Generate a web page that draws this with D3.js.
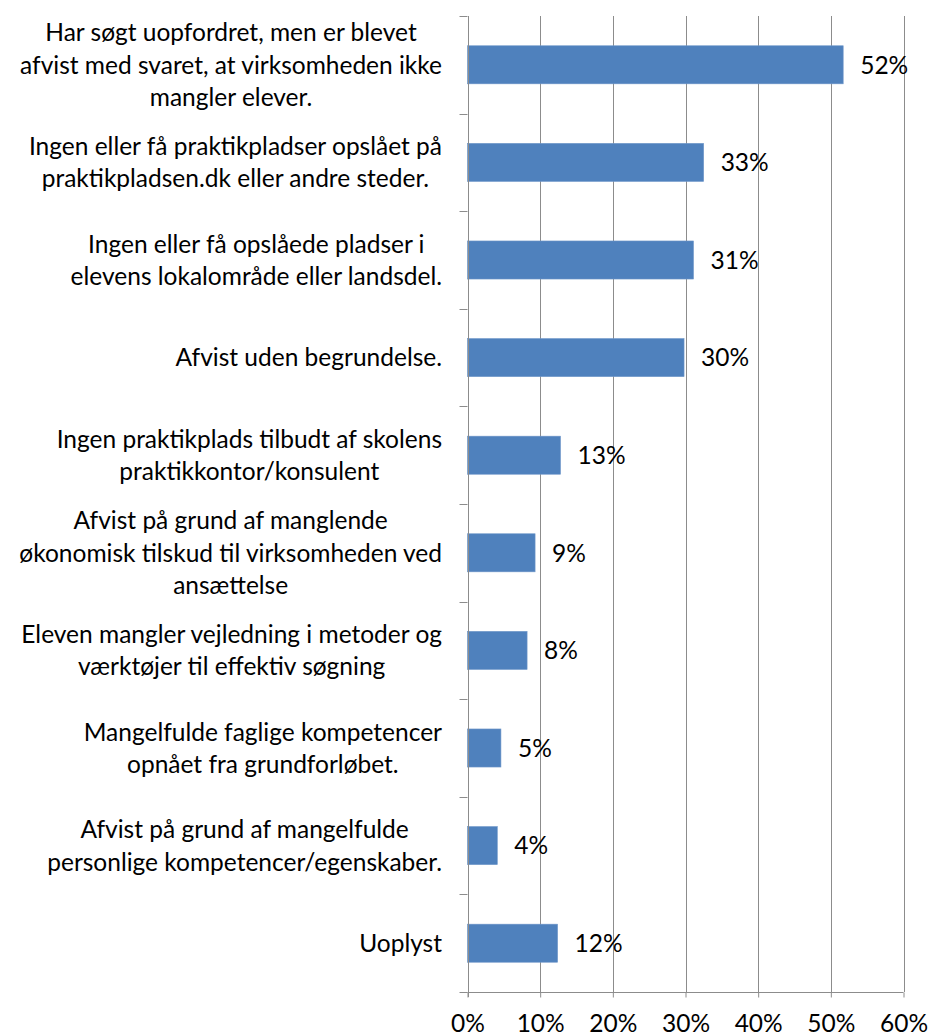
<!DOCTYPE html>
<html>
<head>
<meta charset="utf-8">
<script src="https://cdn.jsdelivr.net/npm/d3@7"></script>
<style>
  html, body { margin: 0; padding: 0; background: #fff; }
  svg { display: block; font-family: Lato, "Open Sans", sans-serif; }
</style>
</head>
<body>
<svg id="chart" width="929" height="1036"></svg>
<script>
const categories = [
  ["Har søgt uopfordret, men er blevet", "afvist med svaret, at virksomheden ikke", "mangler elever."],
  ["Ingen eller få praktikpladser opslået på", "praktikpladsen.dk eller andre steder."],
  ["Ingen eller få opslåede pladser i", "elevens lokalområde eller landsdel."],
  ["Afvist uden begrundelse."],
  ["Ingen praktikplads tilbudt af skolens", "praktikkontor/konsulent"],
  ["Afvist på grund af manglende", "økonomisk tilskud til virksomheden ved", "ansættelse"],
  ["Eleven mangler vejledning i metoder og", "værktøjer til effektiv søgning"],
  ["Mangelfulde faglige kompetencer", "opnået fra grundforløbet."],
  ["Afvist på grund af mangelfulde", "personlige kompetencer/egenskaber."],
  ["Uoplyst"]
];
const values = [0.517, 0.325, 0.311, 0.298, 0.128, 0.093, 0.082, 0.046, 0.041, 0.124];
const valueLabels = ["52%", "33%", "31%", "30%", "13%", "9%", "8%", "5%", "4%", "12%"];
const xTicks = [0, 0.1, 0.2, 0.3, 0.4, 0.5, 0.6];

(function () {
const svg = d3.select("#chart");
const pLeft = 467.5, pRight = 903.5, pTop = 16, pBottom = 992;
const gridColor = "#8c8c8c";
const fontSize = 24.5;

const ids = categories.map((c, i) => "c" + i);
const x = d3.scaleLinear().domain([0, 0.6]).range([pLeft, pRight]);
const y = d3.scaleBand().domain(ids).range([pTop, pBottom]).paddingInner(0.61).paddingOuter(0.305);

// gridlines
svg.append("g").selectAll("line").data(xTicks.slice(1)).join("line")
  .attr("x1", d => Math.round(x(d)) + 0.5).attr("x2", d => Math.round(x(d)) + 0.5)
  .attr("y1", pTop).attr("y2", pBottom)
  .attr("stroke", gridColor).attr("stroke-width", 1);

// bars
svg.append("g").selectAll("rect").data(values).join("rect")
  .attr("x", x(0))
  .attr("y", (d, i) => y(ids[i]))
  .attr("width", d => x(d) - x(0))
  .attr("height", y.bandwidth())
  .attr("fill", "#4f81bd")
  .attr("stroke", "#6f97c9").attr("stroke-width", 0.6);

// value labels
svg.append("g").selectAll("text").data(values).join("text")
  .attr("x", d => x(d) + 17)
  .attr("y", (d, i) => y(ids[i]) + y.bandwidth() / 2)
  .attr("dy", "0.36em")
  .attr("font-size", fontSize)
  .attr("fill", "#000")
  .text((d, i) => valueLabels[i]);

// x axis
const xAxis = d3.axisBottom(x).tickValues(xTicks).tickFormat(d3.format(".0%")).tickSize(5).tickPadding(17);
const gx = svg.append("g").attr("transform", `translate(0,${pBottom + 0.5})`).call(xAxis);
gx.select(".domain").attr("stroke", gridColor).attr("d", `M${pLeft},0H${pRight}`);
gx.selectAll(".tick line").attr("stroke", gridColor);
gx.selectAll(".tick text").attr("font-size", fontSize).attr("fill", "#000").attr("font-family", "Lato, sans-serif");

// y axis line and boundary ticks
const yBound = d3.scaleLinear().domain([0, categories.length]).range([pTop, pBottom]);
const gy = svg.append("g");
gy.append("line").attr("x1", Math.round(pLeft) + 0.5).attr("x2", Math.round(pLeft) + 0.5)
  .attr("y1", pTop).attr("y2", pBottom + 5).attr("stroke", gridColor);
gy.selectAll("line.t").data(d3.range(categories.length + 1)).join("line").attr("class", "t")
  .attr("x1", pLeft - 8).attr("x2", pLeft)
  .attr("y1", d => Math.round(yBound(d)) + 0.5).attr("y2", d => Math.round(yBound(d)) + 0.5)
  .attr("stroke", gridColor);

// category labels
const lineH = 32.5;
const labelRight = 442;
categories.forEach((lines, i) => {
  const g = svg.append("g");
  const cy = y(ids[i]) + y.bandwidth() / 2;
  const texts = lines.map((l, j) => g.append("text")
    .attr("font-size", fontSize).attr("fill", "#000")
    .attr("text-anchor", "middle")
    .attr("y", cy + (j - (lines.length - 1) / 2) * lineH)
    .attr("dy", "0.36em")
    .text(l));
  const w = d3.max(texts, t => t.node().getComputedTextLength());
  texts.forEach(t => t.attr("x", labelRight - w / 2));
});
})();
</script>
</body>
</html>
